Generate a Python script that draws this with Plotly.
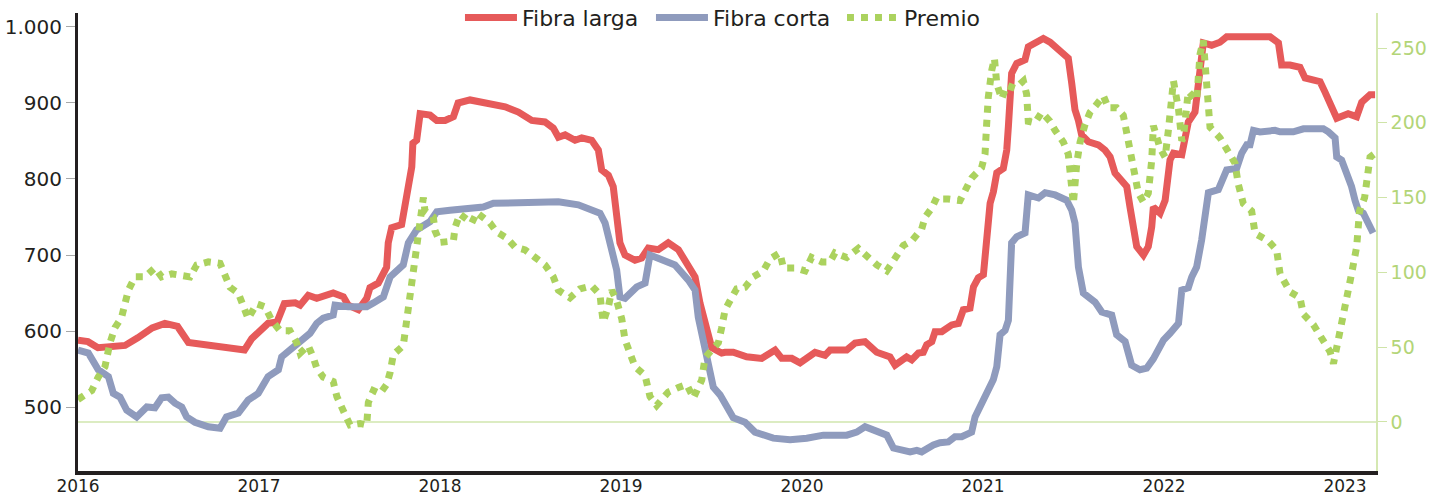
import plotly.graph_objects as go

# ---- data (time in decimal years) ----
larga_t = [2016.00, 2016.055, 2016.11, 2016.17, 2016.26, 2016.33, 2016.41, 2016.48, 2016.55, 2016.61,
           2016.72, 2016.85, 2016.92, 2016.96, 2017.05, 2017.10, 2017.14, 2017.20, 2017.227, 2017.272,
           2017.319, 2017.41, 2017.466, 2017.493, 2017.549, 2017.595, 2017.613, 2017.659, 2017.687, 2017.705,
           2017.714, 2017.733, 2017.788, 2017.807, 2017.825, 2017.844, 2017.85, 2017.871, 2017.89, 2017.945,
           2017.982, 2018.028, 2018.074, 2018.10, 2018.166, 2018.239, 2018.30, 2018.36, 2018.433, 2018.507,
           2018.58, 2018.626, 2018.654, 2018.691, 2018.746, 2018.783, 2018.838, 2018.875, 2018.893, 2018.93,
           2018.957, 2018.976, 2018.994, 2019.022, 2019.077, 2019.114, 2019.151, 2019.206, 2019.261, 2019.317,
           2019.363, 2019.409, 2019.436, 2019.464, 2019.482, 2019.501, 2019.556, 2019.575, 2019.62, 2019.694,
           2019.777, 2019.851, 2019.888, 2019.943, 2019.989, 2020.072, 2020.127, 2020.155, 2020.247, 2020.293,
           2020.348, 2020.413, 2020.486, 2020.514, 2020.578, 2020.606, 2020.643, 2020.67, 2020.689, 2020.717,
           2020.735, 2020.772, 2020.827, 2020.864, 2020.891, 2020.928, 2020.947, 2020.974, 2021.002, 2021.02,
           2021.039, 2021.057, 2021.076, 2021.112, 2021.131, 2021.14, 2021.149, 2021.158, 2021.186, 2021.232,
           2021.25, 2021.287, 2021.333, 2021.37, 2021.407, 2021.444, 2021.471, 2021.49, 2021.508, 2021.527,
           2021.545, 2021.582, 2021.637, 2021.674, 2021.702, 2021.729, 2021.766, 2021.794, 2021.812, 2021.83,
           2021.849, 2021.886, 2021.913, 2021.932, 2021.941, 2021.978, 2022.006, 2022.033, 2022.052, 2022.098,
           2022.116, 2022.134, 2022.171, 2022.19, 2022.208, 2022.217, 2022.263, 2022.309, 2022.346, 2022.401,
           2022.475, 2022.586, 2022.632, 2022.65, 2022.696, 2022.751, 2022.779, 2022.862, 2022.89, 2022.926,
           2022.954, 2023.017, 2023.064, 2023.092, 2023.138, 2023.166]
larga_v = [588, 586, 578, 580, 581, 591, 604, 610, 606, 585,
           582, 579, 575, 590, 610, 612, 636, 637, 634, 647,
           643, 650, 645, 634, 628, 643, 657, 663, 676, 684,
           716, 736, 740, 768, 795, 816, 847, 851, 886, 884,
           877, 877, 882, 900, 904, 900, 897, 895, 888, 877,
           875, 867, 855, 858, 851, 854, 851, 838, 812, 805,
           790, 750, 716, 700, 693, 696, 709, 707, 716, 707,
           691, 671, 637, 614, 595, 578, 571, 572, 572, 566,
           564, 575, 564, 564, 558, 572, 568, 575, 575, 584,
           586, 572, 566, 555, 566, 562, 571, 572, 582, 586,
           599, 599, 608, 610, 628, 630, 658, 670, 674, 716,
           768, 783, 808, 814, 838, 869, 904, 939, 952, 957,
           974, 980, 985, 980, 972, 963, 959, 926, 891, 877,
           858, 849, 845, 838, 829, 808, 799, 790, 763, 733,
           711, 700, 711, 737, 763, 755, 772, 825, 834, 832,
           855, 875, 888, 926, 970, 979, 976, 980, 987, 987,
           987, 987, 979, 950, 950, 947, 933, 928, 914, 893,
           880, 886, 882, 901, 911, 911]

corta_t = [2016.00, 2016.057, 2016.112, 2016.168, 2016.195, 2016.232, 2016.269, 2016.324, 2016.38, 2016.425,
           2016.462, 2016.499, 2016.536, 2016.573, 2016.60, 2016.646, 2016.72, 2016.785, 2016.82, 2016.886,
           2016.94, 2016.996, 2017.05, 2017.107, 2017.125, 2017.171, 2017.227, 2017.282, 2017.319, 2017.355,
           2017.41, 2017.42, 2017.493, 2017.595, 2017.632, 2017.687, 2017.724, 2017.797, 2017.825, 2017.871,
           2017.945, 2017.982, 2018.055, 2018.166, 2018.239, 2018.295, 2018.387, 2018.433, 2018.507, 2018.654,
           2018.764, 2018.819, 2018.884, 2018.912, 2018.949, 2018.976, 2018.994, 2019.022, 2019.087, 2019.133,
           2019.16, 2019.225, 2019.298, 2019.372, 2019.409, 2019.427, 2019.455, 2019.482, 2019.51, 2019.547,
           2019.584, 2019.62, 2019.685, 2019.74, 2019.841, 2019.934, 2020.026, 2020.099, 2020.118, 2020.247,
           2020.302, 2020.348, 2020.413, 2020.468, 2020.505, 2020.551, 2020.597, 2020.634, 2020.661, 2020.726,
           2020.762, 2020.808, 2020.845, 2020.882, 2020.937, 2020.956, 2020.983, 2021.02, 2021.057, 2021.076,
           2021.094, 2021.122, 2021.14, 2021.158, 2021.186, 2021.232, 2021.25, 2021.306, 2021.343, 2021.398,
           2021.462, 2021.49, 2021.508, 2021.527, 2021.554, 2021.619, 2021.656, 2021.711, 2021.738, 2021.785,
           2021.821, 2021.867, 2021.904, 2021.94, 2021.96, 2021.997, 2022.033, 2022.08, 2022.098, 2022.134,
           2022.153, 2022.18, 2022.208, 2022.227, 2022.245, 2022.30, 2022.328, 2022.346, 2022.401, 2022.429,
           2022.457, 2022.475, 2022.494, 2022.53, 2022.613, 2022.641, 2022.714, 2022.77, 2022.88, 2022.908,
           2022.945, 2022.954, 2022.981, 2023.009, 2023.036, 2023.055, 2023.073, 2023.101, 2023.128, 2023.155]
corta_v = [575, 571, 549, 540, 518, 513, 496, 487, 500, 499,
           512, 513, 505, 500, 487, 480, 474, 472, 487, 492,
           509, 518, 540, 549, 566, 575, 588, 597, 610, 617,
           621, 634, 632, 632, 637, 645, 671, 687, 716, 733,
           744, 757, 759, 762, 763, 768, 768, 770, 768, 770,
           766, 762, 755, 742, 707, 680, 645, 643, 658, 663,
           700, 693, 687, 667, 654, 618, 584, 549, 526, 516,
           500, 486, 480, 467, 459, 457, 459, 461, 463, 463,
           467, 474, 467, 463, 446, 443, 441, 443, 441, 450,
           453, 454, 461, 461, 467, 487, 500, 522, 536, 553,
           595, 601, 614, 716, 724, 729, 779, 775, 782, 779,
           772, 759, 742, 684, 650, 638, 625, 621, 595, 586,
           555, 549, 551, 563, 571, 588, 597, 610, 654, 657,
           671, 684, 720, 746, 782, 786, 803, 812, 814, 834,
           845, 845, 864, 862, 864, 862, 862, 866, 866, 862,
           854, 829, 825, 808, 790, 772, 759, 755, 742, 729]

premio_t = [2016.00, 2016.076, 2016.112, 2016.149, 2016.177, 2016.204, 2016.241, 2016.26, 2016.278, 2016.315,
            2016.37, 2016.425, 2016.462, 2016.518, 2016.573, 2016.619, 2016.656, 2016.72, 2016.785, 2016.812,
            2016.84, 2016.886, 2016.913, 2016.94, 2016.987, 2017.033, 2017.07, 2017.116, 2017.171, 2017.208,
            2017.227, 2017.272, 2017.30, 2017.319, 2017.355, 2017.41, 2017.43, 2017.448, 2017.475, 2017.503,
            2017.558, 2017.595, 2017.604, 2017.632, 2017.669, 2017.705, 2017.724, 2017.742, 2017.797, 2017.816,
            2017.834, 2017.852, 2017.871, 2017.89, 2017.898, 2017.908, 2017.917, 2017.963, 2017.972, 2018.00,
            2018.074, 2018.083, 2018.11, 2018.175, 2018.203, 2018.23, 2018.276, 2018.313, 2018.368, 2018.414,
            2018.47, 2018.525, 2018.58, 2018.626, 2018.654, 2018.718, 2018.773, 2018.838, 2018.884, 2018.893,
            2018.902, 2018.93, 2018.949, 2018.976, 2019.004, 2019.022, 2019.05, 2019.077, 2019.133, 2019.16,
            2019.197, 2019.261, 2019.317, 2019.363, 2019.40, 2019.446, 2019.464, 2019.501, 2019.538, 2019.556,
            2019.575, 2019.602, 2019.639, 2019.685, 2019.731, 2019.786, 2019.823, 2019.878, 2019.897, 2019.961,
            2020.017, 2020.053, 2020.109, 2020.155, 2020.182, 2020.247, 2020.311, 2020.366, 2020.413, 2020.468,
            2020.514, 2020.56, 2020.606, 2020.661, 2020.68, 2020.717, 2020.744, 2020.76, 2020.808, 2020.873,
            2020.919, 2020.937, 2020.992, 2021.011, 2021.02, 2021.029, 2021.048, 2021.063, 2021.076, 2021.103,
            2021.131, 2021.177, 2021.223, 2021.241, 2021.25, 2021.287, 2021.324, 2021.37, 2021.398, 2021.444,
            2021.471, 2021.49, 2021.499, 2021.518, 2021.536, 2021.564, 2021.591, 2021.619, 2021.665, 2021.692,
            2021.738, 2021.775, 2021.803, 2021.83, 2021.858, 2021.886, 2021.913, 2021.932, 2021.941, 2021.978,
            2022.006, 2022.024, 2022.033, 2022.052, 2022.08, 2022.098, 2022.107, 2022.134, 2022.18, 2022.19,
            2022.199, 2022.217, 2022.227, 2022.236, 2022.245, 2022.254, 2022.309, 2022.355, 2022.392, 2022.41,
            2022.438, 2022.484, 2022.503, 2022.576, 2022.622, 2022.641, 2022.696, 2022.751, 2022.77, 2022.825,
            2022.871, 2022.917, 2022.936, 2022.963, 2022.99, 2023.017, 2023.036, 2023.064, 2023.08, 2023.108,
            2023.117, 2023.138, 2023.16]
premio_v = [15, 21, 30, 37, 53, 63, 70, 79, 88, 97,
            97, 103, 97, 99, 98, 97, 105, 107, 106, 97,
            90, 86, 77, 69, 79, 77, 68, 61, 61, 53,
            46, 51, 43, 36, 30, 27, 17, 11, 5, -2,
            -1, -2, 13, 21, 19, 25, 33, 45, 51, 68,
            85, 102, 121, 133, 143, 150, 141, 137, 128, 120,
            121, 130, 139, 133, 140, 137, 133, 127, 123, 117,
            115, 110, 105, 97, 88, 83, 89, 91, 85, 75,
            67, 77, 88, 81, 69, 55, 46, 37, 31, 17,
            11, 20, 23, 25, 16, 28, 43, 48, 53, 63,
            75, 81, 89, 90, 97, 101, 109, 113, 103, 103,
            101, 110, 107, 107, 113, 110, 116, 110, 105, 101,
            110, 118, 121, 129, 137, 143, 150, 149, 149, 148,
            159, 163, 170, 179, 199, 217, 235, 243, 226, 216,
            225, 223, 228, 219, 201, 200, 207, 201, 195, 187,
            179, 159, 146, 173, 187, 199, 207, 211, 218, 210,
            210, 205, 186, 166, 153, 147, 153, 175, 198, 183,
            177, 195, 210, 228, 209, 188, 190, 221, 215, 230,
            246, 255, 241, 226, 208, 197, 190, 181, 173, 159,
            146, 141, 126, 121, 115, 99, 87, 83, 72, 65,
            55, 47, 39, 55, 68, 83, 99, 117, 141, 150,
            159, 177, 179]

years = [2016, 2017, 2018, 2019, 2020, 2021, 2022, 2023]
left_ticks = [500, 600, 700, 800, 900, 1000]
right_ticks = [0, 50, 100, 150, 200, 250]

RED = "#e65a5a"
BLUE = "#8f9bbd"
GREEN = "#abd25e"
DARK = "#231f20"
FONT = "DejaVu Sans, Verdana, sans-serif"

fig = go.Figure()
fig.add_trace(go.Scatter(x=larga_t, y=larga_v, name="Fibra larga", mode="lines",
                         line=dict(color=RED, width=7)))
fig.add_trace(go.Scatter(x=corta_t, y=corta_v, name="Fibra corta", mode="lines",
                         line=dict(color=BLUE, width=7)))
fig.add_trace(go.Scatter(x=premio_t, y=premio_v, name="Premio", mode="lines", yaxis="y2",
                         line=dict(color=GREEN, width=7, dash="dot")))

fig.update_layout(
    width=1433, height=499,
    margin=dict(l=78, r=57, t=13, b=28, autoexpand=False),
    paper_bgcolor="white", plot_bgcolor="white",
    separators=",.",
    font=dict(family=FONT, color=DARK, size=18),
    showlegend=True,
    legend=dict(orientation="h", x=0.515, xanchor="center", y=0.99, yanchor="middle",
                font=dict(size=22, color=DARK, family=FONT), bgcolor="rgba(0,0,0,0)",
                itemwidth=52, entrywidth=124, entrywidthmode="pixels", traceorder="normal"),
    xaxis=dict(range=[2016, 2023.171], tickvals=years, ticktext=[str(y) for y in years],
               showgrid=False, zeroline=False, showline=True, linecolor=DARK, linewidth=4,
               ticks="", automargin=False, ticklabelstandoff=-3,
               tickfont=dict(size=17, color=DARK, family=FONT)),
    yaxis=dict(range=[415.8, 1018.4], tickvals=left_ticks, tickformat=",d",
               showgrid=False, zeroline=False, showline=True, linecolor=DARK, linewidth=3,
               ticks="outside", ticklen=9, tickwidth=1, tickcolor="#a8a8a8", automargin=False,
               tickfont=dict(size=20, color=DARK, family=FONT)),
    yaxis2=dict(overlaying="y", side="right", range=[-32.8, 273.4], tickvals=right_ticks,
                showgrid=False, zeroline=True, zerolinecolor="#dcecc2", zerolinewidth=1.5,
                showline=True, linecolor="#d5e8b2", linewidth=1.5, automargin=False,
                ticks="outside", ticklen=9, tickwidth=1, tickcolor="#cfe4a8",
                tickfont=dict(size=19, color="#b3d577", family=FONT)),
)

fig.write_html("out.html",
               config={"displayModeBar": False},
               post_script="document.body.style.margin='0';document.body.style.padding='0';")
